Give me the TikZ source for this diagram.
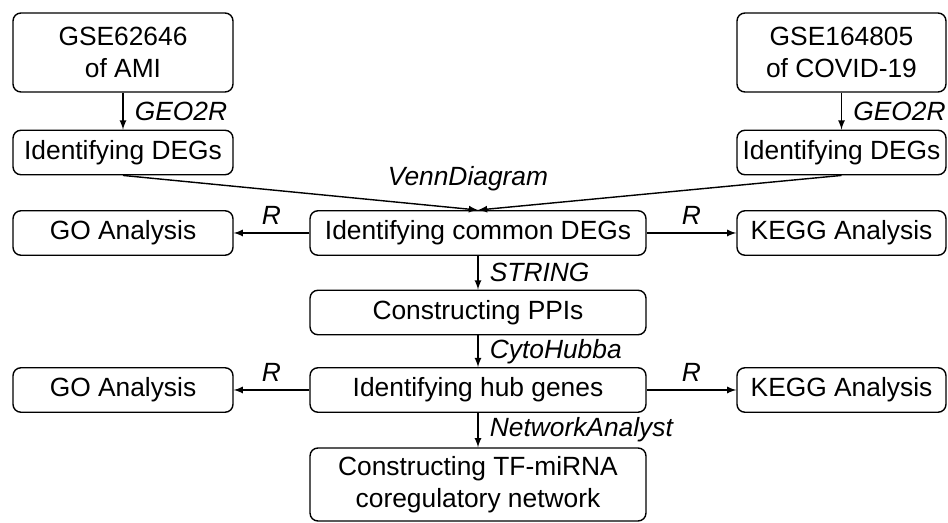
\documentclass[tikz,border=0pt]{standalone}
\usepackage{fontspec}
\setmainfont{Liberation Sans}
\tikzset{>=latex}
\tikzset{
  stepbox/.style = {draw, line width=0.8pt, rounded corners=4.5pt, align=center,
                    inner sep=0pt, font=\fontsize{15}{18.5}\selectfont},
  leftbox/.style = {stepbox, minimum width=4.4cm, minimum height=0.89cm},
  rightbox/.style = {stepbox, minimum width=4.18cm, minimum height=0.89cm},
  midbox/.style = {stepbox, minimum width=6.72cm, minimum height=0.89cm},
  tool/.style = {font=\fontsize{15}{18}\selectfont\itshape},
  flow/.style = {->, line width=0.8pt}
}

\begin{document}
\begin{tikzpicture}[x=0.02cm,y=-0.02cm]
  \useasboundingbox (0,0) rectangle (948,523);
  % datasets
  \node[leftbox, minimum height=1.58cm] (gseA) at (123,52.5) {GSE62646\\of AMI};
  \node[rightbox, minimum height=1.58cm] (gseB) at (841.5,52.5) {GSE164805\\of COVID-19};
  \node[leftbox] (degA) at (123,152.5) {Identifying DEGs};
  \node[rightbox] (degB) at (841.5,152.5) {Identifying DEGs};
  % main column
  \node[midbox] (common) at (478,233) {Identifying common DEGs};
  \node[midbox] (ppi) at (478,312.5) {Constructing PPIs};
  \node[midbox] (hub) at (478,390) {Identifying hub genes};
  \node[midbox, minimum height=1.46cm] (tfmirna) at (478,484.5) {Constructing TF-miRNA\\coregulatory network};
  % enrichment
  \node[leftbox] (goA) at (123,233) {GO Analysis};
  \node[rightbox] (keggA) at (841.5,233) {KEGG Analysis};
  \node[leftbox] (goB) at (123,390) {GO Analysis};
  \node[rightbox] (keggB) at (841.5,390) {KEGG Analysis};

  \draw[flow] (gseA) -- node[tool,right=3pt] {GEO2R} (degA);
  \draw[flow] (gseB) -- node[tool,right=3pt] {GEO2R} (degB);
  \draw[flow] (degA.south) -- (common.north);
  \draw[flow] (degB.south) -- (common.north);
  \node[tool] (venn) at (468,179) {VennDiagram};
  \draw[flow] (common) -- node[tool,above=1pt] {R} (goA);
  \draw[flow] (common) -- node[tool,above=1pt] {R} (keggA);
  \draw[flow] (common) -- node[tool,right=3pt] {STRING} (ppi);
  \draw[flow] (ppi) -- node[tool,right=3pt] {CytoHubba} (hub);
  \draw[flow] (hub) -- node[tool,above=1pt] {R} (goB);
  \draw[flow] (hub) -- node[tool,above=1pt] {R} (keggB);
  \draw[flow] (hub) -- node[tool,right=3pt] {NetworkAnalyst} (tfmirna);
\end{tikzpicture}
\end{document}
